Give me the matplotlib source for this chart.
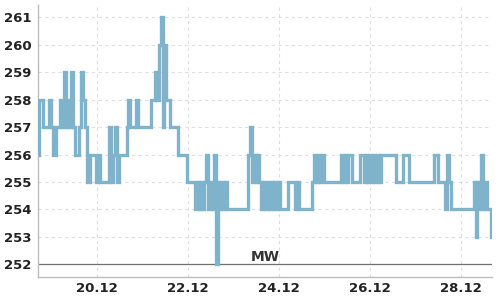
import matplotlib
matplotlib.use("Agg")
import matplotlib.pyplot as plt
import matplotlib.dates as mdates
import pandas as pd

# hourly values starting 18.12 17:00
start_time = "2023-12-18 17:00"
mw_values = [
    256, 258, 258, 257, 257, 257, 258, 257, 256, 256,
    257, 257, 258, 257, 259, 257, 258, 257, 259, 257,
    256, 256, 257, 259, 258, 257, 255, 255, 256, 256,
    256, 255, 256, 255, 255, 255, 255, 255, 257, 255,
    256, 257, 255, 256, 256, 256, 256, 257, 258, 257,
    257, 257, 258, 257, 257, 257, 257, 257, 257, 257,
    258, 258, 259, 258, 260, 261, 257, 260, 258, 258,
    257, 257, 257, 257, 256, 256, 256, 256, 256, 255,
    255, 255, 255, 254, 255, 254, 255, 254, 255, 256,
    254, 255, 254, 256, 252, 255, 254, 255, 254, 255,
    254, 254, 254, 254, 254, 254, 254, 254, 254, 254,
    254, 256, 257, 255, 256, 255, 256, 255, 254, 255,
    254, 255, 254, 255, 254, 255, 254, 255, 254, 254,
    254, 254, 255, 255, 255, 255, 254, 255, 254, 254,
    254, 254, 254, 254, 254, 255, 256, 255, 256, 255,
    256, 255, 255, 255, 255, 255, 255, 255, 255, 255,
    256, 255, 256, 255, 256, 256, 255, 255, 255, 255,
    256, 256, 255, 256, 255, 256, 255, 256, 255, 256,
    255, 256, 256, 256, 256, 256, 256, 256, 256, 255,
    255, 255, 255, 256, 256, 256, 255, 255, 255, 255,
    255, 255, 255, 255, 255, 255, 255, 255, 255, 256,
    256, 255, 255, 255, 255, 254, 256, 255, 254, 254,
    254, 254, 254, 254, 254, 254, 254, 254, 254, 254,
    255, 253, 255, 254, 256, 254, 255, 254, 254, 253,
]
ref_level = 252
ref_label = "MW"
y_ticks = [252, 253, 254, 255, 256, 257, 258, 259, 260, 261]
x_tick_dates = ["2023-12-20", "2023-12-22", "2023-12-24", "2023-12-26", "2023-12-28"]

times = pd.date_range(start_time, periods=len(mw_values), freq="h")

fig = plt.figure(figsize=(5, 3), dpi=100)
ax = fig.add_axes([0.0766, 0.0777, 0.9068, 0.9056])

ax.grid(True, color="#dedede", linestyle=(0, (3, 3)), linewidth=0.8)
ax.set_axisbelow(True)

ax.axhline(ref_level, color="#707070", linewidth=0.9, zorder=2)
ax.plot(times, mw_values, color="#7fb3cc", linewidth=2.4, drawstyle="steps-mid",
        solid_joinstyle="miter", solid_capstyle="butt", zorder=3)

ax.set_xlim(times[0], times[-1])
ax.margins(x=0, y=0.05)
ax.set_yticks(y_ticks)
ax.set_xticks(pd.to_datetime(x_tick_dates))
ax.xaxis.set_major_formatter(mdates.DateFormatter("%d.%m"))

for side in ["top", "right"]:
    ax.spines[side].set_visible(False)
for side in ["left", "bottom"]:
    ax.spines[side].set_color("#bdbdbd")
    ax.spines[side].set_linewidth(1.0)

ax.tick_params(axis="both", length=0, labelsize=9.5, labelcolor="#222222")
ax.tick_params(axis="y", pad=5)
ax.tick_params(axis="x", pad=4)
for lab in ax.get_xticklabels() + ax.get_yticklabels():
    lab.set_fontweight("bold")

ax.text(0.5, ref_level, ref_label, transform=ax.get_yaxis_transform(),
        ha="center", va="bottom", fontsize=10, color="#333333",
        fontweight="semibold")

fig.savefig("out.png", dpi=100)
